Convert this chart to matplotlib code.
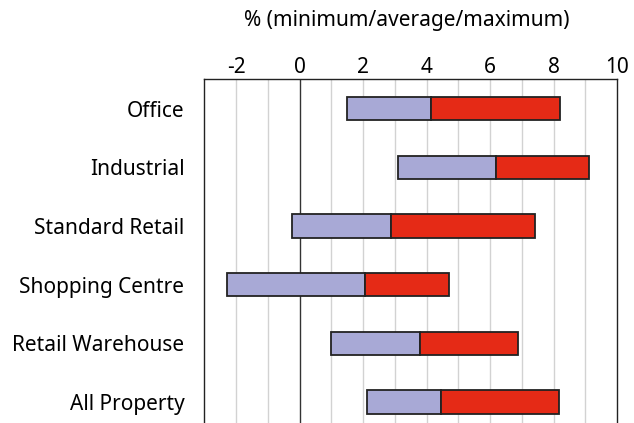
import matplotlib
matplotlib.use("Agg")
import matplotlib.pyplot as plt
import numpy as np

plt.rcParams['font.family'] = ['Noto Sans', 'DejaVu Sans']

# Data (percent)
categories = ["Office", "Industrial", "Standard Retail", "Shopping Centre",
              "Retail Warehouse", "All Property"]
minimum = [1.5, 3.1, -0.25, -2.3, 0.98, 2.13]
average = [4.15, 6.17, 2.87, 2.05, 3.79, 4.45]
maximum = [8.21, 9.12, 7.4, 4.71, 6.89, 8.17]
xticks = [-2, 0, 2, 4, 6, 8, 10]

fig = plt.figure(figsize=(6.34, 4.23), dpi=100)
ax = fig.add_axes([0.3222, -0.0199, 0.6514, 0.8324])

y = np.arange(len(categories))
mins = np.array(minimum)
avgs = np.array(average)
maxs = np.array(maximum)

ax.barh(y, avgs - mins, left=mins, height=0.4, color="#a8a9d6",
        edgecolor="#222222", linewidth=1.3, zorder=3)
ax.barh(y, maxs - avgs, left=avgs, height=0.4, color="#e52a16",
        edgecolor="#222222", linewidth=1.3, zorder=3)

# gridlines every 1 unit
for g in range(-2, 10):
    if g == 0:
        ax.axvline(0, color="#333333", linewidth=1.0, zorder=2)
    else:
        ax.axvline(g, color="#d2d2d2", linewidth=1.0, zorder=1)

ax.set_xlim(-3, 10)
ax.set_ylim(len(categories) - 0.5, -0.5)
ax.set_yticks(y)
ax.set_yticklabels(categories, fontsize=15)
ax.set_xticks(xticks)
ax.set_xticklabels([str(t) for t in xticks], fontsize=15)
ax.xaxis.tick_top()
ax.tick_params(axis="both", length=0)
ax.tick_params(axis="y", pad=14.4)
ax.tick_params(axis="x", pad=1)
for s in ax.spines.values():
    s.set_color("#222222")
    s.set_linewidth(1.0)

fig.text(0.642, 0.952, "% (minimum/average/maximum)", ha="center",
         va="center", fontsize=15)

fig.savefig("out.png", dpi=100)
